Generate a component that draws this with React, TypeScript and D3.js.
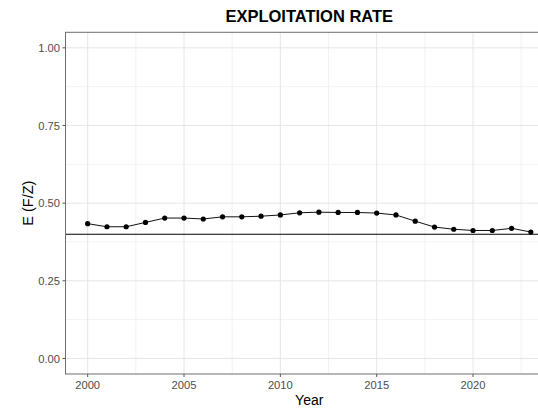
import React from "react";
import * as d3 from "d3";

const years: number[] = [
  2000, 2001, 2002, 2003, 2004, 2005, 2006, 2007, 2008, 2009, 2010, 2011,
  2012, 2013, 2014, 2015, 2016, 2017, 2018, 2019, 2020, 2021, 2022, 2023,
];
const exploitation: number[] = [
  0.434, 0.424, 0.424, 0.438, 0.452, 0.452, 0.449, 0.456, 0.456, 0.458, 0.462, 0.469,
  0.471, 0.47, 0.47, 0.468, 0.462, 0.442, 0.423, 0.416, 0.412, 0.412, 0.419, 0.407,
];
const referenceLevel = 0.4;
const xTicks: number[] = [2000, 2005, 2010, 2015, 2020];
const xMinor: number[] = [2002.5, 2007.5, 2012.5, 2017.5, 2022.5];
const yTicks: number[] = [0, 0.25, 0.5, 0.75, 1.0];
const yMinor: number[] = [0.125, 0.375, 0.625, 0.875];
const title = "EXPLOITATION RATE";
const xTitle = "Year";
const yTitle = "E (F/Z)";

const W = 538;
const H = 408;
const panel = { left: 65.5, right: 553, top: 32.3, bottom: 374 };
const font = "'Liberation Sans', Arial, sans-serif";

export default function App() {
  const span = years[years.length - 1] - years[0];
  const x = d3
    .scaleLinear()
    .domain([years[0] - span * 0.05, years[years.length - 1] + span * 0.05])
    .range([panel.left, panel.right]);
  const y = d3.scaleLinear().domain([-0.05, 1.05]).range([panel.bottom, panel.top]);

  const pts = years.map((yr, i) => [yr, exploitation[i]] as [number, number]);
  const line = d3
    .line<[number, number]>()
    .x((d) => x(d[0]))
    .y((d) => y(d[1]));

  const cx = (panel.left + panel.right) / 2;
  const cy = (panel.top + panel.bottom) / 2;

  return (
    <div style={{ position: "fixed", left: 0, top: 0 }}>
      <svg width={W} height={H} style={{ display: "block", background: "#fff" }} fontFamily={font}>
        <rect x={0} y={0} width={W} height={H} fill="#fff" />
        {/* minor grid */}
        {xMinor.map((v) => (
          <line key={"xm" + v} x1={x(v)} x2={x(v)} y1={panel.top} y2={panel.bottom} stroke="#f2f2f2" strokeWidth={1} />
        ))}
        {yMinor.map((v) => (
          <line key={"ym" + v} x1={panel.left} x2={panel.right} y1={y(v)} y2={y(v)} stroke="#f2f2f2" strokeWidth={1} />
        ))}
        {/* major grid */}
        {xTicks.map((v) => (
          <line key={"xg" + v} x1={x(v)} x2={x(v)} y1={panel.top} y2={panel.bottom} stroke="#e6e6e6" strokeWidth={1} />
        ))}
        {yTicks.map((v) => (
          <line key={"yg" + v} x1={panel.left} x2={panel.right} y1={y(v)} y2={y(v)} stroke="#e6e6e6" strokeWidth={1} />
        ))}

        {/* reference level */}
        <line x1={panel.left} x2={panel.right} y1={y(referenceLevel)} y2={y(referenceLevel)} stroke="#000" strokeWidth={1.1} />

        {/* series */}
        <path d={line(pts) || ""} fill="none" stroke="#111" strokeWidth={1} />
        {pts.map((d) => (
          <circle key={d[0]} cx={x(d[0])} cy={y(d[1])} r={2.6} fill="#000" />
        ))}

        {/* panel border */}
        <rect
          x={panel.left}
          y={panel.top}
          width={panel.right - panel.left}
          height={panel.bottom - panel.top}
          fill="none"
          stroke="#6e6e6e"
          strokeWidth={1}
        />

        {/* y axis ticks & labels */}
        {yTicks.map((v) => (
          <g key={"yt" + v}>
            <line x1={panel.left - 3} x2={panel.left} y1={y(v)} y2={y(v)} stroke="#555" strokeWidth={1} />
            <text x={panel.left - 5.5} y={y(v)} dy="0.36em" textAnchor="end" fontSize={11.2} fill="#4d4d4d">
              {v.toFixed(2)}
            </text>
          </g>
        ))}

        {/* x axis ticks & labels */}
        {xTicks.map((v) => (
          <g key={"xt" + v}>
            <line x1={x(v)} x2={x(v)} y1={panel.bottom} y2={panel.bottom + 3} stroke="#555" strokeWidth={1} />
            <text x={x(v)} y={388.5} textAnchor="middle" fontSize={11.2} fill="#4d4d4d">
              {v}
            </text>
          </g>
        ))}

        {/* titles */}
        <text x={cx} y={22} textAnchor="middle" fontSize={16.5} fontWeight="bold" fill="#000">
          {title}
        </text>
        <text x={cx} y={405} textAnchor="middle" fontSize={14} fill="#000">
          {xTitle}
        </text>
        <text
          transform={`translate(33,${cy}) rotate(-90)`}
          textAnchor="middle"
          fontSize={14.5}
          fill="#000"
        >
          {yTitle}
        </text>
      </svg>
    </div>
  );
}
